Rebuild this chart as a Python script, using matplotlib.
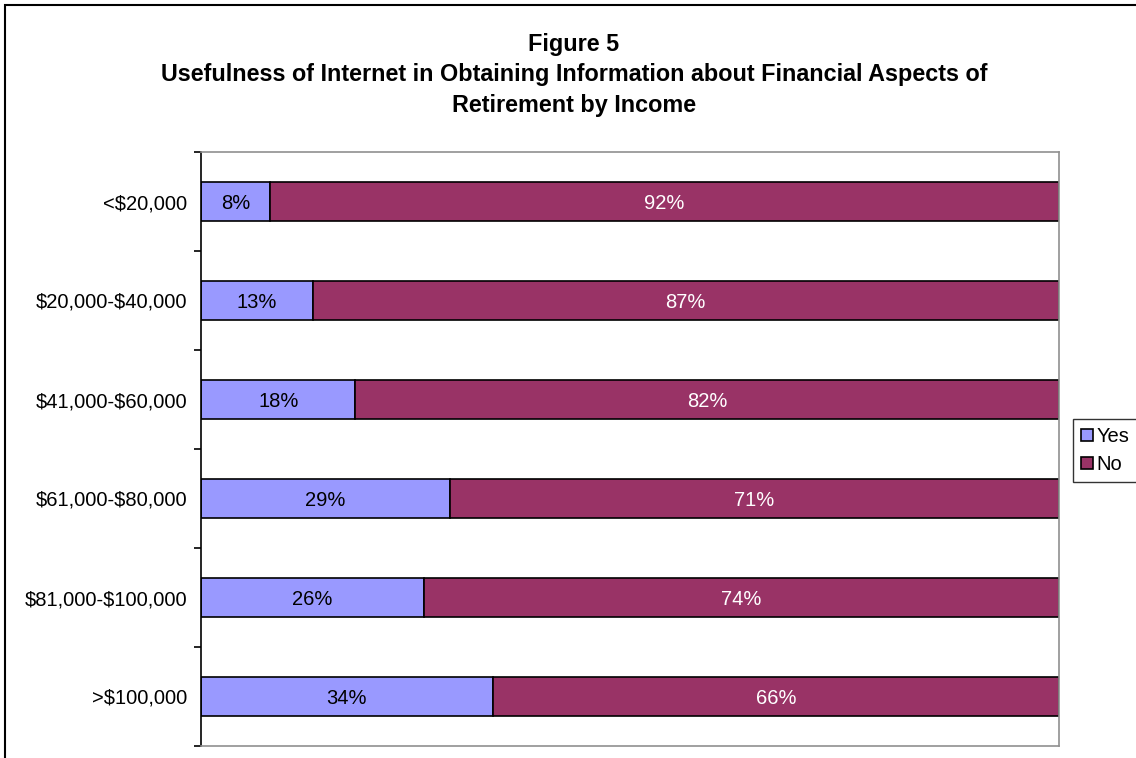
import matplotlib.pyplot as plt
import numpy as np
from matplotlib.patches import Rectangle

plt.rcParams['font.family'] = ['Liberation Sans', 'DejaVu Sans']
plt.rcParams['text.parse_math'] = False

income_groups = ["<$20,000", "$20,000-$40,000", "$41,000-$60,000",
                 "$61,000-$80,000", "$81,000-$100,000", ">$100,000"]
yes_pct = [8, 13, 18, 29, 26, 34]
no_pct = [92, 87, 82, 71, 74, 66]

colors = {"Yes": "#9999FF", "No": "#993366"}

fig = plt.figure(figsize=(11.36, 7.58), dpi=100)
ax = fig.add_axes([201 / 1136, 1 - 746 / 758, 858 / 1136, 594 / 758])

y = np.arange(len(income_groups))
bar_h = 0.4
yes_bars = ax.barh(y, yes_pct, height=bar_h, color=colors["Yes"],
                   edgecolor="black", linewidth=1.2, label="Yes")
no_bars = ax.barh(y, no_pct, left=yes_pct, height=bar_h, color=colors["No"],
                  edgecolor="black", linewidth=1.2, label="No")

for bar, val in zip(yes_bars, yes_pct):
    ax.text(bar.get_x() + bar.get_width() / 2, bar.get_y() + bar.get_height() / 2 + 0.02,
            f"{val}%", ha="center", va="center", fontsize=14.5, color="black")
for bar, val in zip(no_bars, no_pct):
    ax.text(bar.get_x() + bar.get_width() / 2, bar.get_y() + bar.get_height() / 2 + 0.02,
            f"{val}%", ha="center", va="center", fontsize=14.5, color="white")

ax.set_xlim(0, 100)
ax.set_ylim(len(income_groups) - 0.5, -0.5)
ax.set_xticks([])
ax.set_yticks(y)
ax.set_yticklabels(income_groups, fontsize=14.5)
ax.tick_params(axis="y", which="major", length=0, pad=10)
ax.set_yticks(np.arange(-0.5, len(income_groups)), minor=True)
ax.tick_params(axis="y", which="minor", length=5, width=1.2, color="black")

ax.spines["left"].set_color("black")
ax.spines["left"].set_linewidth(1.2)
for side in ("top", "right", "bottom"):
    ax.spines[side].set_color("#909090")
    ax.spines[side].set_linewidth(1.2)

fig.text(574 / 1136, 1 - 75 / 758,
         "Figure 5\nUsefulness of Internet in Obtaining Information about Financial Aspects of\nRetirement by Income",
         ha="center", va="center", fontsize=16.8, fontweight="bold", linespacing=1.41)

leg = fig.legend(handles=[yes_bars, no_bars], labels=["Yes", "No"],
                 loc="upper left", bbox_to_anchor=(1073 / 1136, 1 - 419 / 758),
                 fontsize=14.5, frameon=True, fancybox=False, handlelength=0.6,
                 handleheight=0.6, handletextpad=0.15, borderpad=0.4,
                 labelspacing=0.45, borderaxespad=0)
leg.get_frame().set_edgecolor("black")
leg.get_frame().set_linewidth(1.0)

# outer chart border, running off the right and bottom edges
fig.patches.append(Rectangle((5 / 1136, -0.1), 1.2, 1 - 5 / 758 + 0.1,
                             transform=fig.transFigure, fill=False,
                             edgecolor="black", linewidth=1.5))

fig.savefig("out.png", dpi=100)
